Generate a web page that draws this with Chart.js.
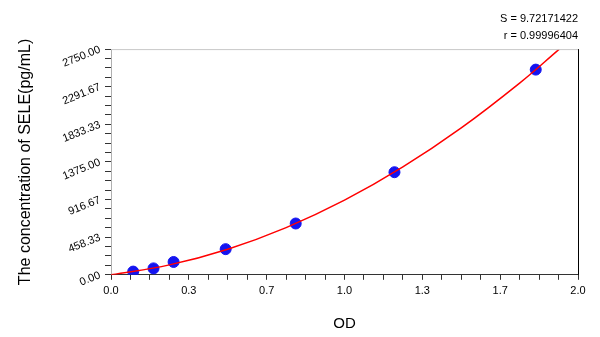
<!DOCTYPE html>
<html>
<head>
<meta charset="utf-8">
<script src="https://cdn.jsdelivr.net/npm/chart.js@4.4.1/dist/chart.umd.min.js"></script>
<style>
  html, body { margin: 0; padding: 0; background: #fff; }
  #wrap { width: 600px; height: 337px; }
</style>
</head>
<body>
<div id="wrap"><canvas id="chart"></canvas></div>
<script>
// standards (OD vs concentration)
const odValues = [0.095, 0.182, 0.268, 0.491, 0.791, 1.214, 1.819];
const concValues = [39.06, 78.13, 156.25, 312.5, 625, 1250, 2500];

// fitted curve
const curveX = [0, 0.25, 0.5, 0.75, 1.0, 1.25, 1.5, 1.75, 1.92];
const curveY = [0, 121, 312, 575, 909, 1314, 1790, 2336, 2750];

const fitStats = ['S = 9.72171422', 'r = 0.99996404'];
const xTitle = 'OD';
const yTitle = 'The concentration of SELE(pg/mL)';
const yMax = 2750;
const xMax = 2;

const fontFamily = '"Liberation Sans", Arial, sans-serif';

// top + right frame of the plot box
const framePlugin = {
    id: 'frame',
    afterDraw(chart) {
        const a = chart.chartArea;
        const ctx = chart.ctx;
        ctx.save();
        ctx.lineWidth = 1;
        ctx.strokeStyle = '#c8c8c8';
        ctx.beginPath();
        ctx.moveTo(a.left, a.top + 0.5);
        ctx.lineTo(a.right, a.top + 0.5);
        ctx.stroke();
        ctx.strokeStyle = '#000';
        ctx.beginPath();
        ctx.moveTo(a.right + 0.5, a.top);
        ctx.lineTo(a.right + 0.5, a.bottom);
        ctx.stroke();
        ctx.restore();
    }
};

new Chart(document.getElementById('chart'), {
    type: 'scatter',
    data: {
        datasets: [{
            label: 'fit',
            type: 'line',
            data: curveX.map((x, i) => ({ x: x, y: curveY[i] })),
            borderColor: '#ff0000',
            borderWidth: 1.5,
            pointRadius: 0,
            tension: 0.4,
            fill: false
        }, {
            label: 'standards',
            data: odValues.map((x, i) => ({ x: x, y: concValues[i] })),
            backgroundColor: '#1414f0',
            borderColor: '#1414f0',
            pointRadius: 5.5,
            pointHoverRadius: 5.5
        }]
    },
    options: {
        responsive: true,
        maintainAspectRatio: false,
        animation: false,
        layout: { padding: { top: 10, right: 22, left: 12, bottom: 0 } },
        plugins: {
            legend: { display: false },
            tooltip: { enabled: false },
            title: {
                display: true,
                text: fitStats,
                align: 'end',
                color: '#000',
                font: { family: fontFamily, size: 11, weight: 'normal', lineHeight: 1.55 },
                padding: { top: 0, bottom: 5 }
            }
        },
        scales: {
            x: {
                type: 'linear',
                min: 0,
                max: xMax,
                title: {
                    display: true,
                    text: xTitle,
                    color: '#000',
                    font: { family: fontFamily, size: 15 },
                    padding: { top: 12 }
                },
                grid: {
                    drawOnChartArea: false,
                    tickLength: 5,
                    tickColor: '#333'
                },
                border: { color: '#333' },
                ticks: {
                    stepSize: xMax / 24,
                    autoSkip: false,
                    maxRotation: 0,
                    color: '#000',
                    font: { family: fontFamily, size: 11 },
                    padding: 5,
                    callback: v => Math.abs(v * 3 - Math.round(v * 3)) < 1e-6 ? v.toFixed(1) : ''
                }
            },
            y: {
                type: 'linear',
                min: 0,
                max: yMax,
                title: {
                    display: true,
                    text: yTitle,
                    color: '#000',
                    font: { family: fontFamily, size: 16 },
                    padding: { bottom: 18 }
                },
                grid: {
                    drawOnChartArea: false,
                    tickLength: 6,
                    tickColor: '#333'
                },
                border: { color: '#b0b0b0' },
                ticks: {
                    stepSize: yMax / 24,
                    autoSkip: false,
                    minRotation: 22,
                    maxRotation: 22,
                    color: '#000',
                    font: { family: fontFamily, size: 11 },
                    padding: 5,
                    callback: v => {
                        const k = v / (yMax / 6);
                        return Math.abs(k - Math.round(k)) < 1e-6 ? v.toFixed(2) : '';
                    }
                }
            }
        }
    },
    plugins: [framePlugin]
});
</script>
</body>
</html>
